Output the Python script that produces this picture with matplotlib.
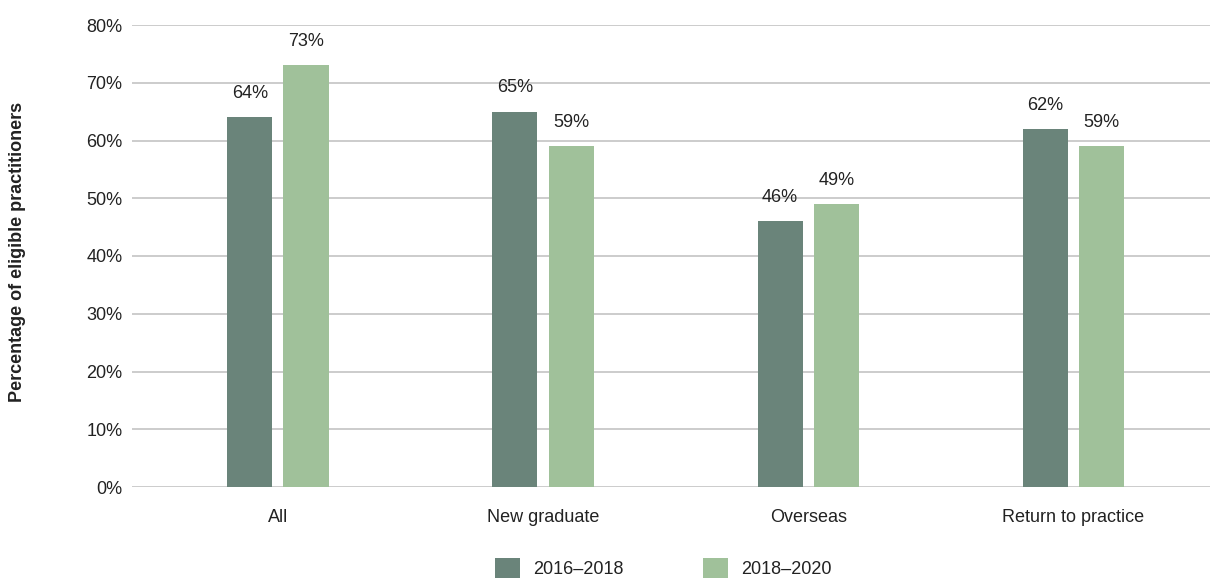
import numpy as np
import matplotlib.pyplot as plt

categories = ['All', 'New graduate', 'Overseas', 'Return to practice']
series_labels = ['2016\u20132018', '2018\u20132020']
vals_1618 = [64, 65, 46, 62]
vals_1820 = [73, 59, 49, 59]
yticks = [0, 10, 20, 30, 40, 50, 60, 70, 80]

plt.rcParams['font.family'] = ['Liberation Sans', 'DejaVu Sans']

colors = ['#6a847a', '#a0c19a']


def main():
    fig = plt.figure(figsize=(12.13, 5.8), dpi=100)
    ax = fig.add_axes([132 / 1213, 1 - 487 / 580, (1210 - 132) / 1213,
                       (487 - 25) / 580])

    x = np.arange(len(categories))
    wdth = 0.17
    offs = 0.106

    for vals, off, col, lab in zip((vals_1618, vals_1820), (-offs, offs),
                                   colors, series_labels):
        bars = ax.bar(x + off, vals, width=wdth, color=col, label=lab,
                      zorder=3)
        for bar, v in zip(bars, vals):
            ax.annotate(f'{v}%',
                        (bar.get_x() + bar.get_width() / 2, v),
                        xytext=(0, 11), textcoords='offset points',
                        ha='center', va='bottom', fontsize=13,
                        color='#222222')

    ax.set_xlim(-0.55, 3.515)
    ax.set_ylim(0, 80)
    ax.set_yticks(yticks)
    ax.set_yticklabels([f'{t}%' for t in yticks], fontsize=13,
                       color='#222222')
    ax.set_xticks(x)
    ax.set_xticklabels(categories, fontsize=13, color='#222222')
    ax.tick_params(axis='both', length=0)
    ax.tick_params(axis='y', pad=7)
    ax.tick_params(axis='x', pad=16)

    ax.yaxis.grid(True, color='#c4c4c4', lw=1.2, zorder=0)
    for sp in ax.spines.values():
        sp.set_visible(False)

    fig.text(18 / 1213, 1 - 252 / 580, 'Percentage of eligible practitioners',
             rotation=90, ha='center', va='center', fontsize=13,
             fontweight='bold', color='#222222')

    fig.legend(loc='center', bbox_to_anchor=(663 / 1213, 1 - 568 / 580),
               ncol=2, frameon=False, fontsize=13, handlelength=1.4,
               handleheight=1.3, columnspacing=4.4, handletextpad=0.7,
               labelcolor='#222222')

    fig.savefig('out.png', dpi=100, facecolor='white')
    plt.close()


if __name__ == '__main__':
    main()
